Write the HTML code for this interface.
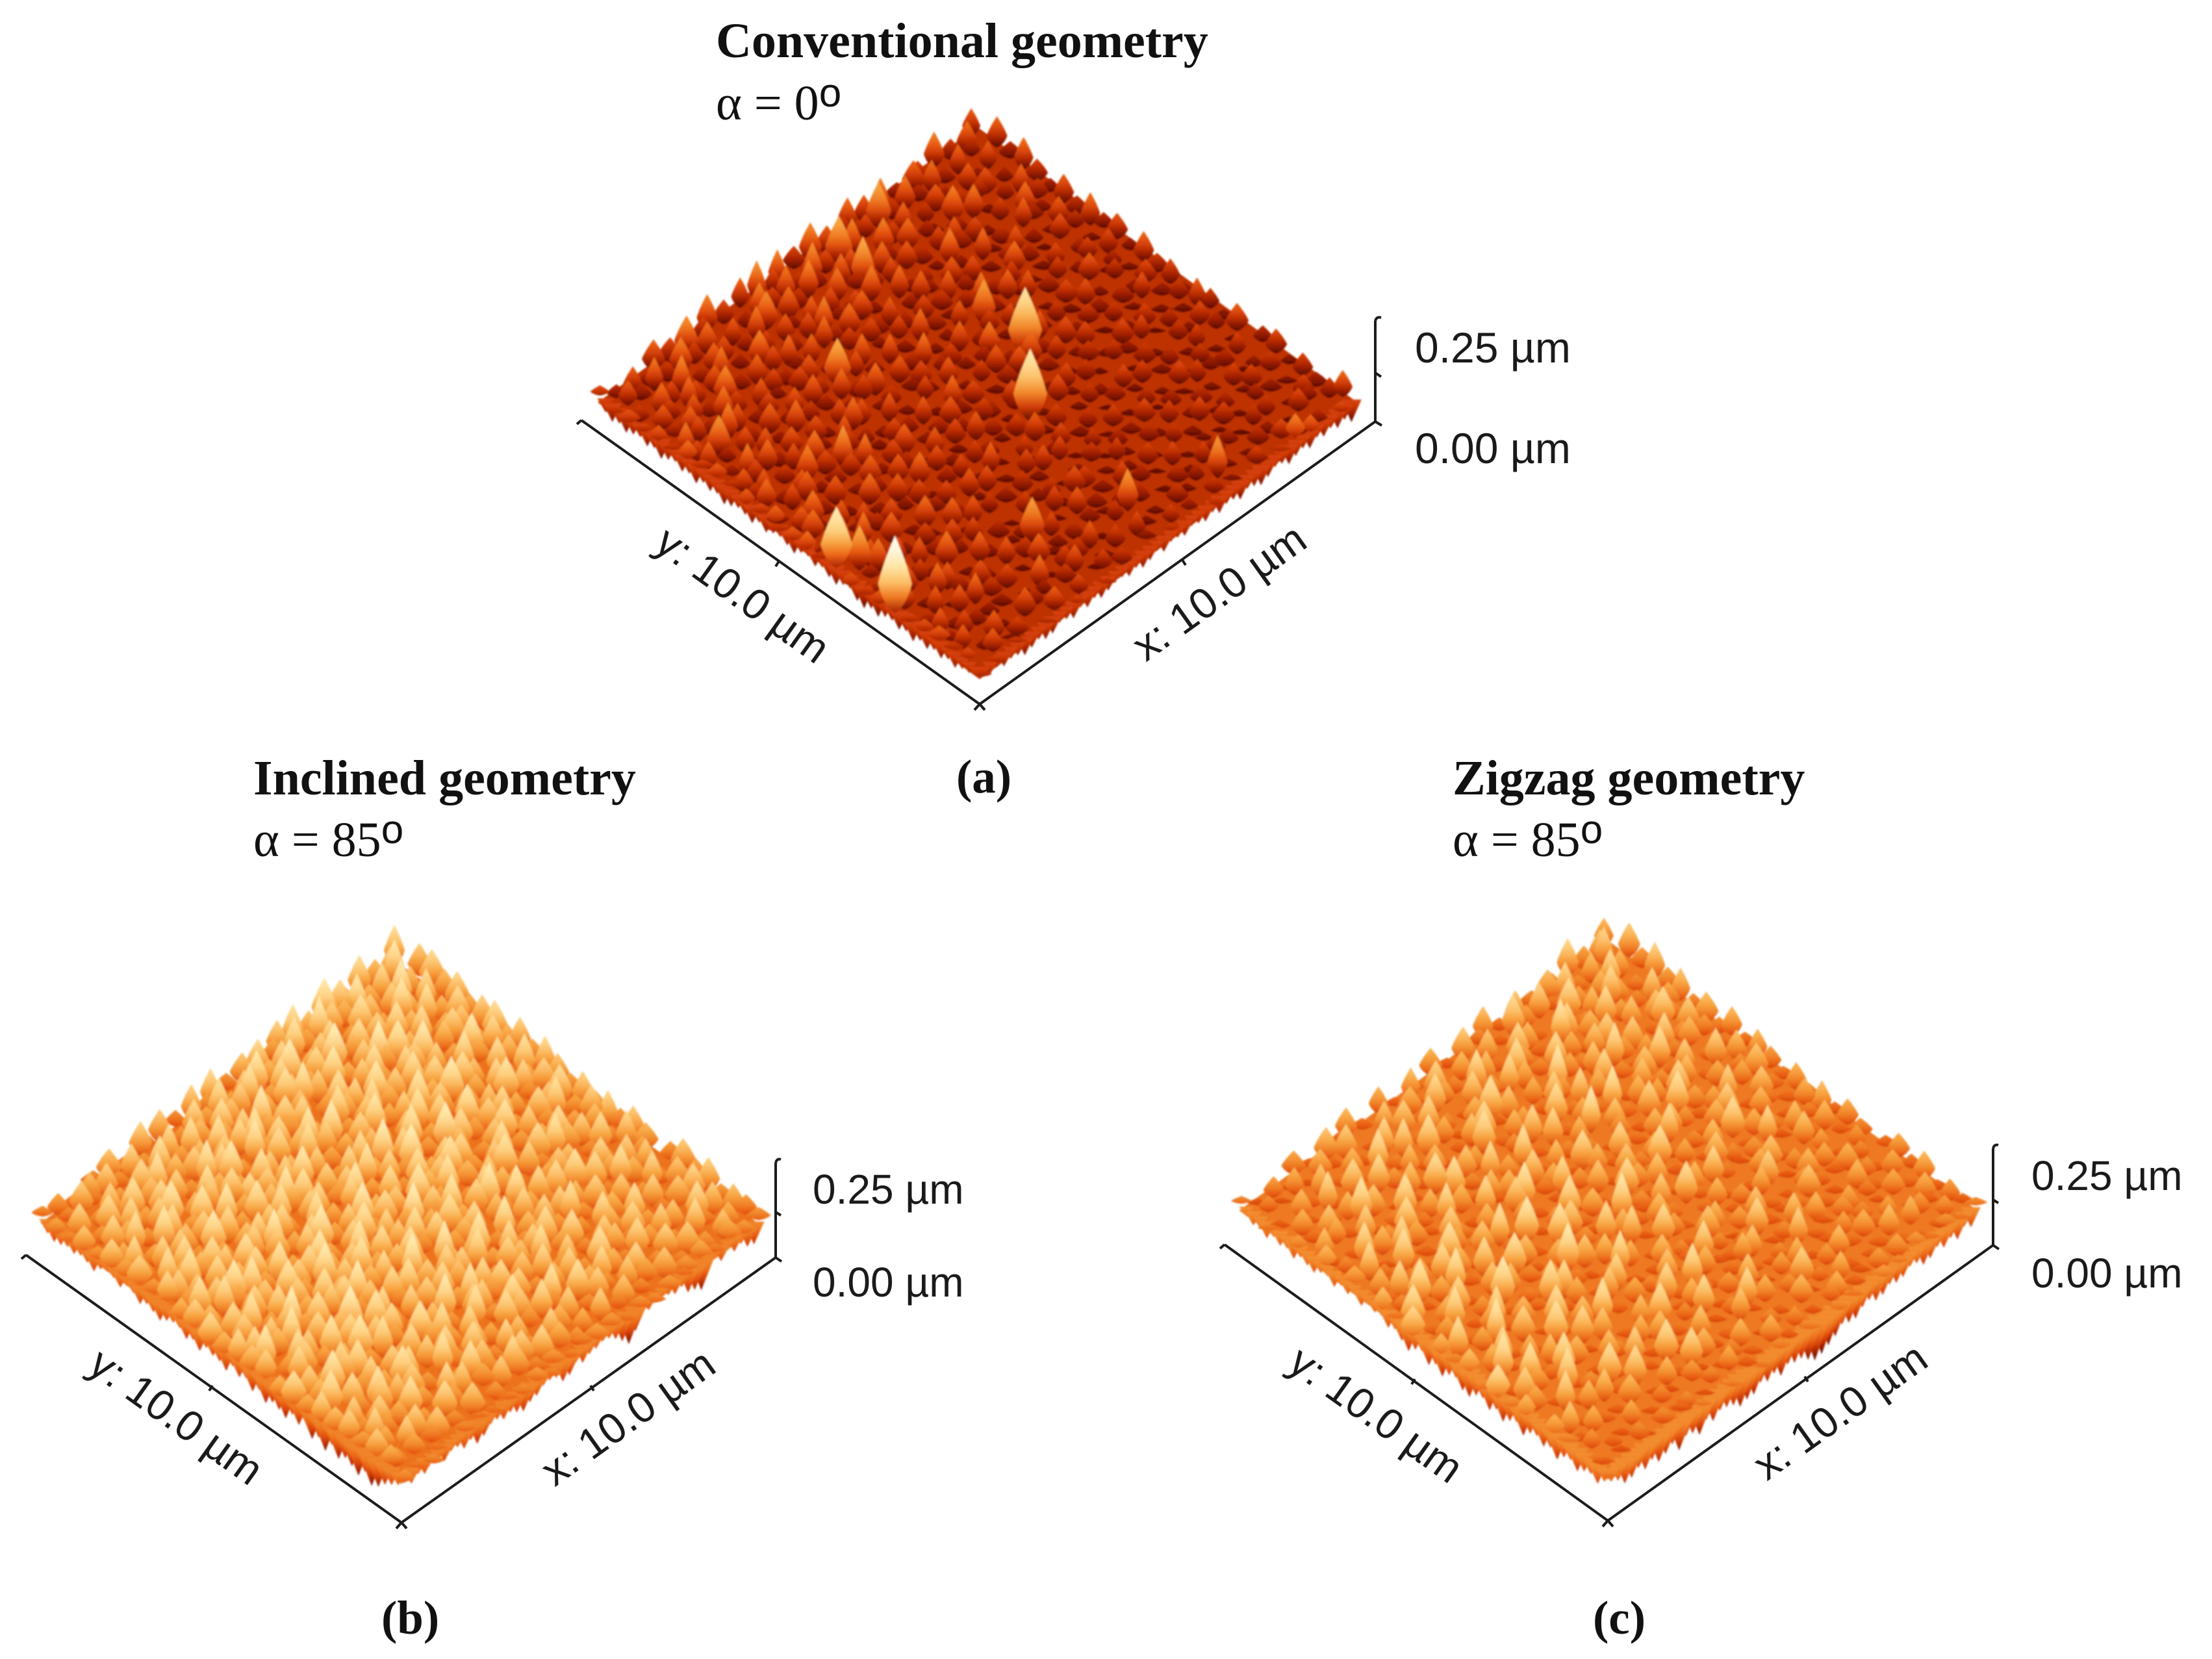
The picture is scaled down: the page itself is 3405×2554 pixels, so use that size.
<!DOCTYPE html>
<html lang="en">
<head>
<meta charset="utf-8">
<title>AFM surface topography: conventional, inclined and zigzag geometry</title>
<style>
html,body{margin:0;padding:0;background:#fff;}
body{width:3405px;height:2554px;overflow:hidden;}
svg{display:block;position:absolute;left:0;top:0;}
.title{font-family:"Liberation Serif",serif;font-weight:700;font-size:76px;fill:#111;}
.angle{font-family:"Liberation Serif",serif;font-size:76px;fill:#111;}
.deg{font-family:"Liberation Sans",sans-serif;font-size:62px;}
.caption{font-family:"Liberation Serif",serif;font-weight:700;font-size:73px;fill:#111;}
.tick{font-family:"Liberation Sans",sans-serif;font-size:64px;fill:#1a1a1a;}
.rot{font-family:"Liberation Sans",sans-serif;font-size:66px;fill:#1a1a1a;}
.axis{fill:none;stroke:#1c1c1c;stroke-width:4;}
</style>
</head>
<body>
<svg id="figure" xmlns="http://www.w3.org/2000/svg" width="3405" height="2554" viewBox="0 0 3405 2554">
  <defs id="defs">
    <filter id="soft" x="-5%" y="-5%" width="110%" height="110%"><feGaussianBlur stdDeviation="1.3"/></filter>
  </defs>
  <rect width="3405" height="2554" fill="#fff"/>

  <g>
    <g id="surface-a" filter="url(#soft)"></g>
    <path class="axis" d="M895 647L1508 1084L2117 649L2117 494"/>
    <path class="axis" d="M895 647l-7 6M1508 1084l-8 9M1508 1084l8 9M1199 864l-5 8M1820 862l5 8M2117 649l10 6M2117 574l9 6M2117 494q2-7 9-5"/>
    <text class="title" x="1102" y="88">Conventional geometry</text>
    <text class="angle" x="1102" y="184">α = 0<tspan class="deg" dy="-20">o</tspan></text>
    <text class="tick" x="2178" y="558" style="font-size:66px">0.25 µm</text>
    <text class="tick" x="2178" y="713" style="font-size:66px">0.00 µm</text>
    <text class="rot" text-anchor="middle" transform="translate(1877 912) rotate(-35.5)" y="22">x: 10.0 µm</text>
    <text class="rot" text-anchor="middle" transform="translate(1143 916) rotate(35.5)" y="22">y: 10.0 µm</text>
    <text class="caption" x="1472" y="1220">(a)</text>
  </g>

  <g>
    <g id="surface-b" filter="url(#soft)"></g>
    <path class="axis" d="M40 1932L618 2344L1194 1936L1194 1790"/>
    <path class="axis" d="M40 1932l-7 6M618 2344l-8 9M618 2344l8 9M327 2133l-5 8M909 2133l5 8M1194 1936l9 6M1194 1866l8 5M1194 1790q2-7 8-5"/>
    <text class="title" x="390" y="1223">Inclined geometry</text>
    <text class="angle" x="390" y="1318">α = 85<tspan class="deg" dy="-20">o</tspan></text>
    <text class="tick" x="1251" y="1853">0.25 µm</text>
    <text class="tick" x="1251" y="1996">0.00 µm</text>
    <text class="rot" text-anchor="middle" transform="translate(967 2182) rotate(-35.5)" y="22">x: 10.0 µm</text>
    <text class="rot" text-anchor="middle" transform="translate(271 2181) rotate(35.5)" y="22">y: 10.0 µm</text>
    <text class="caption" x="587" y="2515">(b)</text>
  </g>

  <g>
    <g id="surface-c" filter="url(#soft)"></g>
    <path class="axis" d="M1885 1916L2475 2341L3068 1917L3068 1768"/>
    <path class="axis" d="M1885 1916l-7 6M2475 2341l-8 9M2475 2341l8 9M2178 2123l-5 8M2778 2119l5 8M3068 1917l9 6M3068 1847l8 5M3068 1768q2-7 8-5"/>
    <text class="title" x="2236" y="1223">Zigzag geometry</text>
    <text class="angle" x="2236" y="1318">α = 85<tspan class="deg" dy="-20">o</tspan></text>
    <text class="tick" x="3127" y="1832">0.25 µm</text>
    <text class="tick" x="3127" y="1982">0.00 µm</text>
    <text class="rot" text-anchor="middle" transform="translate(2833 2173) rotate(-35.5)" y="22">x: 10.0 µm</text>
    <text class="rot" text-anchor="middle" transform="translate(2118 2178) rotate(35.5)" y="22">y: 10.0 µm</text>
    <text class="caption" x="2452" y="2515">(c)</text>
  </g>
</svg>

<script>
// Peak heights in nm, estimated by eye. Row = position along y, column = position along x.
const heightsA = [
[88,96,62,100,74,54,92, 66,102,58,84,50,94,68, 82,52,90,70,46,88,60, 80,44,76,56,70,94,64],
[98,66,90,56,96,70,48, 88,64,40,82,60,38,78, 50,72,42,80,62,36,74, 48,68,38,74,58,40,80],
[72,94,50,86,64,100,60, 44,84,58,74,36,70,52, 86,40,66,46,76,38,62, 34,74,50,40,78,60,42],
[108,58,88,68,42,76,94, 56,36,78,50,88,44,66, 38,76,32,70,40,68,52, 76,38,60,72,34,66,96],
[76,100,54,72,104,46,66, 88,62,42,74,36,84,56, 70,44,80,38,66,32,76, 40,58,36,72,50,78,112],
[96,62,88,110,58,82,40, 70,98,38,62,78,42,68, 36,82,50,72,44,78,34, 66,42,76,32,66,38,70],
[60,106,70,46,92,64,100, 46,76,56,90,38,72,48, 78,40,68,34,76,38,62, 48,80,34,58,38,74,36],
[112,72,96,62,80,108,52, 84,64,94,40,76,50,86, 44,70,36,78,40,64,32, 76,46,38,70,40,34,64],
[88,135,74,98,66,44,90, 60,104,54,78,42,90,58, 80,36,72,48,64,36,78, 40,68,34,74,125,44,36],
[100,78,110,62,90,72,54, 96,66,132,76,46,190,100, 54,82,40,68,32,74,48, 64,36,80,40,60,70,34],
[72,112,60,100,84,52,96, 70,44,90,62,104,56,88, 76,46,86,40,72,34,62, 40,74,32,64,40,34,70],
[90,140,88,142,68,102,56, 82,64,50,96,60,90,66, 44,88,38,76,46,68,32, 76,46,62,36,70,56,34],
[116,80,100,64,110,50,92, 62,102,46,76,50,74,42, 84,54,200,40,78,34,68, 38,82,32,62,40,74,36],
[76,120,62,104,82,94,58, 78,50,104,60,90,44,78, 62,40,76,92,52,80,44, 74,50,66,125,42,32,70],
[108,70,116,86,54,100,80, 48,94,60,82,46,100,52, 76,64,42,74,38,84,34, 86,56,38,72,82,50,32],
[80,106,72,94,112,58,76, 102,56,88,52,78,42,88, 54,92,60,36,80,46,72, 40,88,56,36,76,38,60],
[118,76,102,54,86,100,62, 84,50,102,70,44,90,58, 82,42,76,96,38,72,52, 82,34,66,90,40,72,34],
[94,110,116,88,66,94,58, 138,60,82,48,92,62,50, 90,52,78,38,84,56,76, 42,80,50,72,36,76,48],
[80,62,106,76,98,52,90, 68,98,54,86,50,78,96, 42,84,60,90,40,70,34, 58,132,42,76,88,36,66],
[112,90,58,108,84,60,80, 96,56,84,102,62,46,82, 66,100,38,78,54,90,62, 40,72,94,34,68,78,40],
[74,102,84,56,96,78,50, 88,72,46,92,74,104,48, 88,50,82,58,94,42,80, 52,88,36,100,56,34,74],
[118,74,94,106,60,92,78, 54,102,84,50,124,78,94, 62,90,52,100,38,84,56, 96,50,80,40,64,88,42],
[82,108,64,90,114,76,56, 96,50,88,104,80,60,48, 98,52,86,46,76,60,106, 42,84,68,50,92,36,66],
[96,72,116,82,58,104,90, 66,88,56,86,110,50,92, 46,84,66,96,50,92,48, 88,58,98,52,40,76,44],
[70,104,78,100,90,62,112, 84,50,98,68,88,96,56, 90,48,104,54,86,46,76, 98,40,88,62,90,42,68],
[88,60,100,74,94,84,122, 58,104,80,92,54,86,106, 50,94,70,88,104,54,92, 46,90,50,82,48,88,36],
[62,92,70,90,64,106,80, 96,56,88,70,100,60,90, 102,58,84,140,62,80,46, 96,66,92,54,88,38,74],
[78,68,86,74,92,70,100, 74,88,68,92,78,96,72, 88,100,72,205,86,70,90, 245,76,84,90,72,80,70]
];
const frontLeftA = [56,44,52,40,48,38,46,52,42,50,36,46,54,42, 50,38,52,44,50,36,44,52,48,40,54,42,52,56, 48,40,54,58,46,56,44,38,50,54,36,30,42,34,46,50, 40,48,36,50,42,52,44,54,46,56,58,63];
const frontRightA = [24,38,30,48,40,52,44,54,40,52,46,38,52,56,44,36,46,52,38,50,52,42,56,46,54,60,48,56, 58,46,60,50,44,56,48,58,60,50,44,56,46,58,44,54,58,44,42,54,46,40,52,56,50,60,56,63];

const heightsB = [
[186,166,178,154,176,146,170, 184,150,172,142,178,160,136, 168,146,174,132,166,150,128, 164,140,170,128,156,132,126],
[172,198,160,186,148,182,164, 140,178,158,192,146,170,184, 136,170,154,126,176,142,166, 122,160,174,130,166,146,130],
[156,182,204,160,192,150,176, 198,146,184,144,174,128,164, 190,138,168,182,124,172,150, 178,120,162,184,124,158,142],
[184,148,170,200,156,186,162, 142,194,160,178,196,144,176, 136,184,156,124,174,148,190, 130,168,122,158,180,132,116],
[146,198,166,138,190,156,206, 168,134,186,148,166,182,128, 172,146,194,158,130,180,122, 164,184,134,172,124,166,138],
[180,150,192,170,140,200,168, 144,182,204,154,130,172,194, 136,182,126,166,188,122,170, 150,120,176,140,168,120,132],
[202,170,138,184,208,150,178, 192,148,168,136,198,142,166, 190,122,172,146,182,156,128, 186,154,126,182,124,162,112],
[158,204,178,150,170,192,142, 172,202,130,180,150,186,132, 170,196,142,178,124,168,192, 130,168,158,120,174,140,130],
[192,142,170,210,144,168,200, 150,172,194,140,208,158,178, 134,172,156,198,144,172,136, 184,124,192,148,166,120,118],
[168,196,154,178,198,134,174, 190,144,166,200,134,176,196, 150,180,204,130,176,154,186, 144,172,128,180,128,162,124],
[138,180,206,146,170,192,156, 168,200,142,178,208,144,168, 194,132,174,160,198,128,170, 192,134,176,150,168,122,110],
[178,150,184,166,202,142,192, 134,176,160,212,140,188,156, 140,200,146,180,128,184,158, 126,178,154,190,124,168,128],
[160,198,140,190,162,178,140, 204,148,186,144,174,132,198, 170,142,188,156,200,138,174, 164,130,196,128,172,146,136],
[124,168,196,150,182,142,198, 172,140,178,196,138,184,164, 208,150,178,140,172,192,128, 178,168,132,184,152,128,122],
[178,134,172,204,144,178,164, 192,168,132,172,198,152,178, 146,188,134,206,152,168,180, 142,190,166,136,172,150,112],
[130,192,158,174,196,140,184, 154,198,172,140,178,204,132, 174,164,190,142,182,160,196, 172,128,184,160,126,174,128],
[172,138,184,146,178,202,164, 176,132,190,178,146,168,196, 140,184,158,210,164,182,140, 172,194,140,174,168,122,114],
[122,180,156,194,170,134,190, 168,200,154,170,194,140,174, 202,146,178,136,190,168,206, 132,178,164,126,182,156,130],
[166,130,188,160,182,198,140, 178,158,188,136,174,206,138, 172,196,154,182,136,174,160, 192,138,182,166,130,164,122],
[126,182,138,172,202,152,178, 144,194,168,182,146,176,198, 150,172,204,164,182,140,194, 152,178,130,188,140,128,110],
[170,128,190,160,132,188,170, 198,140,178,204,172,140,182, 206,158,178,136,196,178,140, 182,168,194,142,172,126,112],
[120,174,142,196,170,156,194, 132,182,160,176,146,196,170, 140,190,168,208,154,172,192, 146,178,130,178,142,166,108],
[158,124,182,160,178,200,138, 172,198,140,188,178,138,194, 172,152,186,160,178,200,136, 170,194,172,138,178,124,120],
[118,168,134,190,142,172,184, 160,132,186,170,154,198,166, 182,208,142,176,196,152,190, 176,146,166,188,134,166,104],
[156,122,172,142,178,130,198, 170,186,154,178,200,146,176, 140,172,198,170,138,182,170, 140,194,176,146,170,126,110],
[116,164,134,182,152,190,140, 176,150,196,166,172,190,140, 196,170,154,190,172,138,200, 178,142,170,136,168,138,118],
[136,118,170,130,176,146,182, 136,188,170,140,190,156,182, 168,178,200,140,182,172,154, 196,168,132,176,146,130,112],
[120,136,122,160,128,170,142, 172,132,176,150,170,142,180, 150,182,160,172,148,184,144, 174,156,172,136,166,146,126]
];
const frontLeftB = [84,72,88,78,82,90,84,92,86,76,94,100,96,84,100,94,78,90,82,72,84,92,90,74,84,68,88,80, 78,66,90,74,84,62,78,56,70,64,54,76,62,80,50,66,44,72,48,62,54,42,64,40,50,68,80,92];
const frontRightB = [72,88,66,72,92,84,100,84,104,90,45,58,64,90,84,94,100,104,92,108,62,40,60,78,92,96,90,88, 78,92,70,66,88,94,92,78,74,62,72,84,78,90,90,72,64,86,76,92,94,80,92,100,84,96,84,98];

const heightsC = [
[148,164,128,170,134,160,122, 154,118,150,112,148,132,108, 146,120,156,106,142,120,104, 138,112,148,102,132,100,118],
[160,176,150,118,168,140,124, 166,130,106,154,126,162,116, 104,144,114,152,106,130,122, 100,140,108,146,102,128,112],
[136,156,178,144,122,160,180, 128,152,118,172,104,140,160, 116,100,156,112,134,98,146, 124,104,142,100,132,108,126],
[174,120,150,182,134,158,112, 174,122,164,112,142,172,102, 150,124,96,162,108,138,100, 152,116,94,134,150,100,112],
[126,176,136,156,180,110,166, 142,184,104,154,116,138,168, 98,144,174,102,128,150,112, 96,142,120,100,156,106,128],
[154,112,184,122,152,170,134, 108,160,126,176,136,100,150, 184,104,130,160,94,128,160, 104,130,96,146,104,134,108],
[118,168,134,176,106,160,190, 120,158,110,142,192,128,104, 154,122,92,144,170,98,118, 150,94,136,112,98,130,118],
[160,134,110,194,144,120,162, 176,106,152,172,108,158,120, 98,162,116,102,150,108,94, 160,110,100,154,102,96,128],
[108,182,150,106,178,138,110, 150,194,116,102,152,178,98, 140,110,174,94,128,158,102, 120,172,96,130,148,100,108],
[156,100,176,140,120,198,134, 176,114,158,136,108,148,186, 102,152,108,148,100,134,176, 94,120,152,94,114,144,112],
[118,162,106,186,150,102,168, 116,146,198,98,174,120,110, 162,96,186,110,152,92,122, 158,98,134,170,92,120,122],
[164,112,156,98,180,146,106, 186,108,152,122,100,162,140, 94,166,116,98,162,120,104, 150,108,92,124,150,96,106],
[102,150,186,130,110,162,140, 98,176,122,180,152,96,178, 124,102,156,136,100,178,96, 112,162,102,146,98,126,116],
[146,98,122,170,192,102,152, 176,104,156,96,130,162,100, 200,110,94,178,120,106,152, 100,130,178,94,118,100,108],
[110,172,138,102,150,178,110, 126,188,96,144,178,106,150, 102,152,176,98,156,94,188, 124,96,122,162,92,146,122],
[156,108,182,122,96,162,192, 102,138,172,116,100,188,110, 96,182,106,144,102,162,110, 150,178,94,110,148,98,106],
[98,150,116,176,146,106,142, 178,98,152,196,102,128,170, 124,98,156,188,96,120,178, 100,122,162,96,122,102,112],
[144,96,166,120,186,98,162, 118,156,106,170,138,96,188, 142,162,96,122,176,142,96, 186,110,96,152,98,140,106],
[104,158,108,178,106,152,114, 186,96,178,110,100,198,102, 152,204,116,102,164,110,156, 108,156,102,178,92,118,116],
[150,98,176,116,156,100,184, 110,152,102,152,188,114,156, 98,140,178,146,96,194,98, 148,96,186,100,130,90,106],
[112,166,102,190,130,162,100, 150,184,120,96,160,106,188, 120,94,192,106,156,100,162, 118,170,98,150,92,118,114],
[160,102,150,116,178,96,192, 114,98,172,142,102,180,98, 156,114,108,186,120,176,94, 156,106,182,94,122,98,100],
[98,148,108,174,106,158,120, 178,142,102,190,152,104,162, 202,98,150,94,192,106,150, 102,184,112,152,94,118,108],
[136,92,162,102,150,194,98, 128,182,108,96,178,196,100, 130,186,104,170,98,156,190, 104,126,162,98,140,92,100],
[94,146,106,180,116,100,172, 150,94,190,146,106,144,176, 100,150,198,108,148,100,116, 192,100,152,108,94,122,102],
[130,90,150,98,162,144,106, 186,114,100,176,194,98,150, 190,106,138,178,98,188,142, 98,182,110,144,106,92,108],
[92,118,96,144,106,156,98, 120,178,150,106,120,188,108, 142,184,100,150,198,106,170, 140,98,160,100,126,98,100],
[116,94,112,98,130,104,150, 106,142,108,156,112,144,176, 106,150,120,156,110,184,124, 152,106,146,118,98,112,114]
];
const frontLeftC = [100,90,104,94,100,86,102,92,98,84,100,92,86,98,102,88,104,94,106,90,108,98,102,84,92,76,62,78, 86,64,78,60,76,82,62,58,74,80,62,76,58,72,82,60,78,84,70,80,62,80,86,70,82,88,76,94];
const frontRightC = [104,84,78,92,72,88,76,90,74,70,86,90,76,74,82,68,66,80,74,58,60,68,50,40,30,26,40,56, 58,66,50,68,60,70,52,52,46,62,70,74,60,76,50,66,72,48,76,64,56,74,62,78,66,64,84,94];

const NS = 'http://www.w3.org/2000/svg';
const colourStops = [[0,32,0,0],[30,112,16,0],[50,162,32,0],[70,208,58,6],[90,232,92,18],[110,240,128,38],[135,248,165,66],[165,254,205,125],[200,255,232,170],[250,255,255,255]];

function colourFor(z){
  const s = colourStops;
  if (z <= s[0][0]) return 'rgb('+s[0][1]+','+s[0][2]+','+s[0][3]+')';
  for (let k = 1; k < s.length; k++){
    if (z <= s[k][0]){
      const t = (z - s[k-1][0]) / (s[k][0] - s[k-1][0]);
      const c = [1,2,3].map(n => Math.round(s[k-1][n] + (s[k][n] - s[k-1][n]) * t));
      return 'rgb('+c.join(',')+')';
    }
  }
  return 'rgb(255,255,255)';
}

const gradientCache = {};
function gradientFor(z, low){
  const hi = Math.round(z / 5) * 5;
  const lo = Math.round(low / 5) * 5;
  const id = 'grad-' + hi + '-' + lo;
  if (!gradientCache[id]){
    gradientCache[id] = true;
    const g = document.createElementNS(NS, 'linearGradient');
    g.setAttribute('id', id);
    g.setAttribute('x1', '0'); g.setAttribute('y1', '0');
    g.setAttribute('x2', '0'); g.setAttribute('y2', '1');
    [0, .2, .4, .6, .8, 1].forEach(t => {
      const stop = document.createElementNS(NS, 'stop');
      stop.setAttribute('offset', String(t));
      stop.setAttribute('stop-color', colourFor(hi + (lo - hi) * Math.pow(t, 1.5)));
      g.appendChild(stop);
    });
    document.getElementById('defs').appendChild(g);
  }
  return 'url(#' + id + ')';
}

function drawSurface(groupId, heights, frontLeft, frontRight, cfg){
  const group = document.getElementById(groupId);
  const n = heights.length;
  const top = {x: cfg.left.x + cfg.right.x - cfg.bottom.x, y: cfg.left.y + cfg.right.y - cfg.bottom.y};
  const inset = cfg.inset;
  const uVec = {x: cfg.right.x - top.x - inset, y: cfg.right.y - top.y};
  const vVec = {x: cfg.left.x - top.x + inset, y: cfg.left.y - top.y};
  const planeX = (i, j) => top.x + uVec.x * (i + .5) / n + vVec.x * (j + .5) / n;
  const planeY = (i, j) => top.y + uVec.y * (i + .5) / n + vVec.y * (j + .5) / n;
  const zPx = z => z * cfg.pxPerNm;
  const stepY = uVec.y / n;
  const lift = zPx(cfg.floorZ);

  const floor = document.createElementNS(NS, 'polygon');
  
  
  floor.setAttribute('points', [
    [planeX(.2,.2), planeY(.2,.2) - lift],
    [planeX(n-.5,.2), planeY(n-.5,.2) - lift],
    [planeX(n-.5,n-.5), planeY(n-.5,n-.5) - lift],
    [planeX(.2,n-.5), planeY(.2,n-.5) - lift]
  ].map(p => p.join(',')).join(' '));
  floor.setAttribute('fill', colourFor(cfg.floorZ));
  group.appendChild(floor);

  function addDrip(x, y, zEdge){
    const topY = y - zPx(cfg.floorZ + 24);
    const botY = y - zPx(zEdge);
    const half = 11 + Math.max(0, cfg.floorZ - zEdge) * .14;
    const drip = document.createElementNS(NS, 'path');
    
    
    drip.setAttribute('d', 'M' + (x - half).toFixed(1) + ' ' + topY.toFixed(1) + 'L' + (x + half).toFixed(1) + ' ' + topY.toFixed(1) + 'L' + x.toFixed(1) + ' ' + botY.toFixed(1) + 'Z');
    drip.setAttribute('fill', gradientFor(cfg.floorZ + 14, zEdge - 8));
    group.appendChild(drip);
  }
  const edgeCount = frontLeft.length;
  for (let k = 2; k < edgeCount; k++){
    const t = (k + .5) / edgeCount * n - .5;
    addDrip(planeX(t, n - .5), planeY(t, n - .5), frontLeft[k]);
  }
  const edgeCountR = frontRight.length;
  for (let k = 2; k < edgeCountR; k++){
    const t = (k + .5) / edgeCountR * n - .5;
    addDrip(planeX(n - .5, t), planeY(n - .5, t), frontRight[k]);
  }

  for (let sum = 0; sum <= 2 * (n - 1); sum++){
    for (let j = 0; j < n; j++){
      const i = sum - j;
      if (i < 0 || i >= n) continue;
      const z = heights[j][i];
      if (z === undefined) continue;
      const hash = (i * 37 + j * 91 + i * j * 5) % 19;
      const hash2 = (i * 53 + j * 29 + i * j * 3) % 17;
      const sx = planeX(i, j) + (hash - 9) * 1.0;
      const base = planeY(i, j) + (hash2 - 8) * .8;
      const tipY = base - zPx(z);
      const frontDist = Math.min(n - 1 - i, n - 1 - j);
      const limit = base + frontDist * stepY - lift + 6;
      const botY = Math.min(base - zPx(cfg.baseZ) + 10, limit);
      const L = botY - tipY;
      if (L < 8) continue;
      const low = (base - botY) / cfg.pxPerNm;
      const w = Math.min(26, cfg.width + (hash2 % 5) - 2 + Math.max(0, z - cfg.typicalZ) * .1);
      const d = 'M' + sx.toFixed(1) + ' ' + tipY.toFixed(1) +
        'C' + (sx + w * .22).toFixed(1) + ' ' + (tipY + L * .12).toFixed(1) + ' ' + (sx + w * .62).toFixed(1) + ' ' + (tipY + L * .3).toFixed(1) + ' ' + (sx + w).toFixed(1) + ' ' + (tipY + L * .62).toFixed(1) +
        'Q' + (sx + w * .7).toFixed(1) + ' ' + (tipY + L * .9).toFixed(1) + ' ' + sx.toFixed(1) + ' ' + botY.toFixed(1) +
        'Q' + (sx - w * .7).toFixed(1) + ' ' + (tipY + L * .9).toFixed(1) + ' ' + (sx - w).toFixed(1) + ' ' + (tipY + L * .62).toFixed(1) +
        'C' + (sx - w * .62).toFixed(1) + ' ' + (tipY + L * .3).toFixed(1) + ' ' + (sx - w * .22).toFixed(1) + ' ' + (tipY + L * .12).toFixed(1) + ' ' + sx.toFixed(1) + ' ' + tipY.toFixed(1) + 'Z';
      const spike = document.createElementNS(NS, 'path');
      
      
      spike.setAttribute('d', d);
      spike.setAttribute('fill', gradientFor(z, low));
      group.appendChild(spike);
    }
  }
}

drawSurface('surface-a', heightsA, frontLeftA, frontRightA, {
  left: {x: 895, y: 647}, bottom: {x: 1508, y: 1084}, right: {x: 2117, y: 649},
  pxPerNm: 155 / 250, baseZ: 34, floorZ: 62, typicalZ: 110, width: 16, inset: 10
});
drawSurface('surface-b', heightsB, frontLeftB, frontRightB, {
  left: {x: 40, y: 1932}, bottom: {x: 618, y: 2344}, right: {x: 1194, y: 1936},
  pxPerNm: 146 / 250, baseZ: 95, floorZ: 102, typicalZ: 210, width: 18, inset: 8
});
drawSurface('surface-c', heightsC, frontLeftC, frontRightC, {
  left: {x: 1885, y: 1916}, bottom: {x: 2475, y: 2341}, right: {x: 3068, y: 1917},
  pxPerNm: 149 / 250, baseZ: 90, floorZ: 106, typicalZ: 200, width: 17, inset: 8
});
</script>
</body>
</html>
